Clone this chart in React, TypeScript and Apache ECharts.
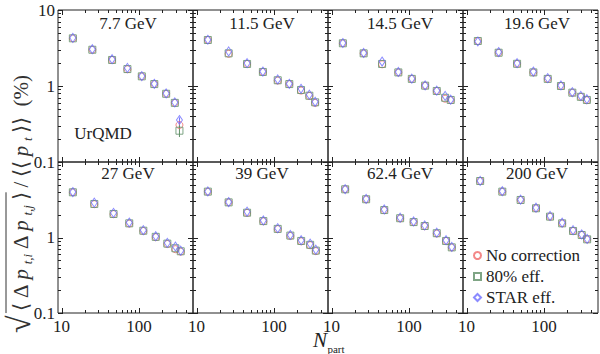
import React, { useEffect, useRef } from "react";
import * as echarts from "echarts";

// ---------------- data ----------------
const energies = ["7.7 GeV", "11.5 GeV", "14.5 GeV", "19.6 GeV", "27 GeV", "39 GeV", "62.4 GeV", "200 GeV"];
const seriesNames = ["No correction", "80% eff.", "STAR eff."];

const npart77 = [14, 25, 45, 71, 109, 158, 225, 291, 334];
const npart115 = [14, 26, 45, 72, 112, 158, 224, 287, 341];
const npart145 = [14, 26, 45, 73, 109, 162, 229, 294, 347];
const npart196 = [14, 26, 45, 73, 112, 166, 233, 300, 359];
const npart27 = [14, 26.5, 47, 75, 114, 165, 233, 296, 347];
const npart39 = [14, 26, 45, 73, 112, 163, 225, 294, 348];
const npart624 = [15, 28, 48, 77, 115, 160, 229, 302, 358];
const npart200 = [15, 29, 50, 79, 120, 172, 238, 308, 362];

const noCorr77 = [4.24, 3.0, 2.2, 1.66, 1.34, 1.06, 0.79, 0.6, 0.307];
const eff80_77 = [4.24, 3.0, 2.2, 1.67, 1.34, 1.06, 0.79, 0.6, 0.258];
const star77 = [4.3, 3.05, 2.25, 1.73, 1.35, 1.07, 0.8, 0.61, 0.357];
const errNoCorr77 = [0, 0, 0, 0, 0, 0, 0, 0, 0.03];
const errEff80_77 = [0, 0, 0, 0, 0, 0, 0, 0, 0.045];
const errStar77 = [0, 0, 0, 0, 0, 0, 0, 0, 0.03];

const noCorr115 = [4.03, 2.65, 1.95, 1.53, 1.18, 1.06, 0.87, 0.74, 0.6];
const eff80_115 = [4.03, 2.69, 1.95, 1.53, 1.19, 1.06, 0.886, 0.745, 0.61];
const star115 = [4.06, 2.85, 2.0, 1.55, 1.22, 1.07, 0.92, 0.77, 0.62];

const noCorr145 = [3.65, 2.69, 1.93, 1.51, 1.24, 1.01, 0.86, 0.68, 0.65];
const eff80_145 = [3.65, 2.69, 1.95, 1.51, 1.24, 1.01, 0.86, 0.7, 0.655];
const star145 = [3.68, 2.72, 2.1, 1.53, 1.25, 1.02, 0.87, 0.74, 0.66];

const noCorr196 = [3.91, 2.74, 1.96, 1.51, 1.24, 1.0, 0.817, 0.72, 0.65];
const eff80_196 = [3.91, 2.74, 1.96, 1.51, 1.24, 1.0, 0.817, 0.72, 0.655];
const star196 = [3.85, 2.8, 2.0, 1.55, 1.27, 1.02, 0.83, 0.74, 0.67];

const noCorr27 = [3.97, 2.76, 2.04, 1.53, 1.22, 1.01, 0.82, 0.7, 0.65];
const eff80_27 = [3.97, 2.78, 2.05, 1.54, 1.23, 1.02, 0.83, 0.72, 0.657];
const star27 = [4.0, 2.9, 2.12, 1.58, 1.25, 1.04, 0.85, 0.76, 0.67];

const noCorr39 = [4.05, 2.92, 2.12, 1.64, 1.29, 1.05, 0.89, 0.79, 0.66];
const eff80_39 = [4.05, 2.92, 2.13, 1.65, 1.3, 1.06, 0.9, 0.8, 0.67];
const star39 = [4.08, 2.95, 2.2, 1.68, 1.33, 1.08, 0.92, 0.83, 0.69];

const noCorr624 = [4.35, 3.2, 2.3, 1.79, 1.6, 1.41, 1.13, 0.9, 0.74];
const eff80_624 = [4.35, 3.21, 2.31, 1.8, 1.6, 1.42, 1.14, 0.9, 0.74];
const star624 = [4.38, 3.25, 2.36, 1.83, 1.63, 1.45, 1.16, 0.92, 0.75];

const noCorr200 = [5.6, 4.05, 3.14, 2.44, 1.89, 1.54, 1.22, 1.08, 0.946];
const eff80_200 = [5.6, 4.05, 3.14, 2.44, 1.89, 1.54, 1.22, 1.08, 0.946];
const star200 = [5.62, 4.1, 3.18, 2.48, 1.93, 1.57, 1.25, 1.1, 0.96];

const xMajorTicks = [10, 100];
const xMinorTicks = [20, 30, 40, 50, 60, 70, 80, 90, 200, 300, 400];
const yMajorTicks = [0.1, 1, 10];
const yMinorTicks = [0.2, 0.3, 0.4, 0.5, 0.6, 0.7, 0.8, 0.9, 2, 3, 4, 5, 6, 7, 8, 9];

const panels = [
  { np: npart77, nc: noCorr77, e80: eff80_77, st: star77 },
  { np: npart115, nc: noCorr115, e80: eff80_115, st: star115 },
  { np: npart145, nc: noCorr145, e80: eff80_145, st: star145 },
  { np: npart196, nc: noCorr196, e80: eff80_196, st: star196 },
  { np: npart27, nc: noCorr27, e80: eff80_27, st: star27 },
  { np: npart39, nc: noCorr39, e80: eff80_39, st: star39 },
  { np: npart624, nc: noCorr624, e80: eff80_624, st: star624 },
  { np: npart200, nc: noCorr200, e80: eff80_200, st: star200 },
];

// ---------------- style ----------------
const FONT = "Liberation Serif";
const TXT = "#222";
const RED = "#f06a6a";
const GREEN = "#5f8f66";
const BLUE = "#6e6eff";
const GRID_LEFT = 58;
const GRID_W = 135;
const ROW_TOP = [10, 162];
const ROW_H = [152, 151];
const titleCx = [128, 262, 400, 537];
const titleCy = [23, 173];

function isPow10(v: number) {
  const l = Math.log10(v);
  const r = Math.round(l);
  return Math.abs(l - r) < 1e-6 ? r : null;
}

function measure(text: string, font: string) {
  const c = document.createElement("canvas").getContext("2d");
  if (!c) return text.length * 8;
  c.font = font;
  return c.measureText(text).width;
}

function tickRender(params: any, api: any) {
  const cs = params.coordSys;
  const kind = api.value(2);
  const major = api.value(3);
  const len = major ? 5 : 3;
  const st = { stroke: "#222", lineWidth: 1 };
  if (kind === 0) {
    const px = Math.round(api.coord([api.value(0), 1])[0]) + 0.5;
    const yb = cs.y + cs.height;
    return {
      type: "group",
      children: [
        { type: "line", shape: { x1: px, y1: yb, x2: px, y2: yb - len }, style: st },
        { type: "line", shape: { x1: px, y1: cs.y, x2: px, y2: cs.y + len }, style: st },
      ],
    };
  }
  const py = Math.round(api.coord([20, api.value(1)])[1]) + 0.5;
  const xr = cs.x + cs.width;
  return {
    type: "group",
    children: [
      { type: "line", shape: { x1: cs.x, y1: py, x2: cs.x + len, y2: py }, style: st },
      { type: "line", shape: { x1: xr, y1: py, x2: xr - len, y2: py }, style: st },
    ],
  };
}

function errRender(color: string) {
  return (params: any, api: any) => {
    const x = api.value(0), y = api.value(1), e = api.value(2);
    if (!e) return null;
    const p1 = api.coord([x, y - e]);
    const p2 = api.coord([x, y + e]);
    return {
      type: "line",
      shape: { x1: p1[0], y1: p1[1], x2: p2[0], y2: p2[1] },
      style: { stroke: color, lineWidth: 1 },
    };
  };
}

function buildYLabel() {
  const segs = [
    { t: "√", size: 32, italic: false, dy: -2 },
    { t: "⟨", size: 21, italic: false, dy: 0 },
    { t: "Δ", size: 21, italic: false, dy: 0 },
    { t: "p", size: 21, italic: true, dy: 0 },
    { t: "t,i", size: 13, italic: true, dy: 6 },
    { t: "Δ", size: 21, italic: false, dy: 0 },
    { t: "p", size: 21, italic: true, dy: 0 },
    { t: "t,j", size: 13, italic: true, dy: 6 },
    { t: "⟩", size: 21, italic: false, dy: 0 },
    { t: "/", size: 21, italic: false, dy: 0 },
    { t: "⟨⟨", size: 21, italic: false, dy: 0 },
    { t: "p", size: 21, italic: true, dy: 0 },
    { t: "t", size: 13, italic: true, dy: 6 },
    { t: "⟩⟩", size: 21, italic: false, dy: 0 },
    { t: " (%)", size: 21, italic: false, dy: 0 },
  ];
  const fontOf = (s: any) => `${s.italic ? "italic " : ""}${s.size}px ${FONT}`;
  const widths = segs.map((s) => measure(s.t, fontOf(s)));
  const total = widths.reduce((a, b) => a + b, 0);
  const target = 258;
  const gap = Math.max(0, (target - total) / (segs.length - 1));
  const children: any[] = [];
  let x = 0;
  let olStart = 0, olEnd = 0;
  segs.forEach((s, i) => {
    if (i === 1) olStart = x - gap * 0.5;
    children.push({
      type: "text",
      x,
      y: s.dy,
      style: {
        text: s.t,
        font: fontOf(s),
        fill: "#333",
        align: "left",
        textAlign: "left",
        verticalAlign: "middle",
        textVerticalAlign: "middle",
      },
    });
    x += widths[i];
    if (i === 8) olEnd = x;
    x += gap;
  });
  children.push({
    type: "line",
    shape: { x1: olStart, y1: -15, x2: olEnd, y2: -15 },
    style: { stroke: "#333", lineWidth: 1 },
  });
  return { type: "group", x: 21, y: 333, rotation: Math.PI / 2, children };
}

function buildOption() {
  const grid: any[] = [];
  const xAxis: any[] = [];
  const yAxis: any[] = [];
  const series: any[] = [];
  const tickData = [
    ...xMajorTicks.map((v) => [v, 1, 0, 1]),
    ...xMinorTicks.map((v) => [v, 1, 0, 0]),
    ...yMajorTicks.map((v) => [20, v, 1, 1]),
    ...yMinorTicks.map((v) => [20, v, 1, 0]),
  ];
  panels.forEach((p, i) => {
    const row = Math.floor(i / 4);
    const col = i % 4;
    grid.push({
      left: GRID_LEFT + col * GRID_W,
      top: ROW_TOP[row],
      width: GRID_W,
      height: ROW_H[row],
      show: true,
      borderColor: "#222",
      borderWidth: 1,
      backgroundColor: "transparent",
      containLabel: false,
      outerBoundsMode: "none",
    });
    xAxis.push({
      type: "log",
      logBase: 10,
      gridIndex: i,
      min: 9,
      max: 500,
      axisLine: { show: false },
      axisTick: { show: false },
      minorTick: { show: false },
      splitLine: { show: false },
      axisLabel: {
        show: row === 1,
        margin: 5,
        fontFamily: FONT,
        fontSize: 17,
        color: TXT,
        showMinLabel: true,
        showMaxLabel: true,
        formatter: (v: number) => {
          const r = isPow10(v);
          return r === 1 || r === 2 ? String(Math.pow(10, r)) : "";
        },
      },
    });
    yAxis.push({
      type: "log",
      logBase: 10,
      gridIndex: i,
      min: 0.1,
      max: 10,
      axisLine: { show: false },
      axisTick: { show: false },
      minorTick: { show: false },
      splitLine: { show: false },
      axisLabel: {
        show: col === 0,
        margin: 3,
        fontFamily: FONT,
        fontSize: 17,
        color: TXT,
        showMinLabel: true,
        showMaxLabel: true,
        formatter: (v: number) => {
          const r = isPow10(v);
          if (r === -1) return "0.1";
          if (r === 0) return "1";
          if (r === 1) return row === 0 ? "10" : "";
          return "";
        },
      },
    });
    series.push({
      type: "custom",
      xAxisIndex: i,
      yAxisIndex: i,
      silent: true,
      clip: false,
      z: 1,
      encode: { x: 0, y: 1 },
      data: tickData,
      renderItem: tickRender,
    });
    const defs = [
      { name: seriesNames[0], vals: p.nc, symbol: "circle", size: 7, color: RED, z: 3 },
      { name: seriesNames[1], vals: p.e80, symbol: "rect", size: 7, color: GREEN, z: 4 },
      { name: seriesNames[2], vals: p.st, symbol: "diamond", size: [6, 9], color: BLUE, z: 5 },
    ];
    defs.forEach((d) => {
      series.push({
        type: "scatter",
        name: d.name,
        xAxisIndex: i,
        yAxisIndex: i,
        symbol: d.symbol,
        symbolSize: d.size,
        z: d.z,
        silent: true,
        itemStyle: { color: "rgba(0,0,0,0)", borderColor: d.color, borderWidth: 1 },
        data: p.np.map((x, j) => [x, d.vals[j]]),
      });
    });
    if (i === 0) {
      const errs = [
        { vals: p.nc, err: errNoCorr77, color: RED },
        { vals: p.e80, err: errEff80_77, color: GREEN },
        { vals: p.st, err: errStar77, color: BLUE },
      ];
      errs.forEach((e) => {
        series.push({
          type: "custom",
          xAxisIndex: i,
          yAxisIndex: i,
          silent: true,
          z: 2,
          encode: { x: 0, y: 1 },
          data: p.np.map((x, j) => [x, e.vals[j], e.err[j]]),
          renderItem: errRender(e.color),
        });
      });
    }
  });

  const textStyle = (text: string, size: number, italic = false) => ({
    text,
    font: `${italic ? "italic " : ""}${size}px ${FONT}`,
    fill: TXT,
    align: "center",
    textAlign: "center",
    verticalAlign: "middle",
    textVerticalAlign: "middle",
  });

  const graphic: any[] = energies.map((e, i) => ({
    type: "text",
    x: titleCx[i % 4],
    y: titleCy[Math.floor(i / 4)],
    silent: true,
    style: textStyle(e, 17),
  }));
  graphic.push({ type: "text", x: 103, y: 133, silent: true, style: textStyle("UrQMD", 17) });
  graphic.push({ type: "text", x: 320, y: 340, silent: true, style: textStyle("N", 21, true) });
  graphic.push({ type: "text", x: 336, y: 349, silent: true, style: textStyle("part", 11) });
  graphic.push(buildYLabel());

  return {
    animation: false,
    backgroundColor: "#fff",
    grid,
    xAxis,
    yAxis,
    series,
    graphic,
    legend: {
      data: [
        { name: seriesNames[0], icon: "circle" },
        { name: seriesNames[1], icon: "rect" },
        { name: seriesNames[2], icon: "diamond" },
      ],
      orient: "vertical",
      left: 473,
      top: 247,
      padding: 0,
      itemWidth: 7,
      itemHeight: 7,
      itemGap: 4,
      selectedMode: false,
      textStyle: { fontFamily: FONT, fontSize: 17, color: TXT },
    },
  };
}

export default function App() {
  const ref = useRef<HTMLDivElement>(null);
  useEffect(() => {
    if (!ref.current) return;
    const chart = echarts.init(ref.current, undefined, { renderer: "svg" });
    chart.setOption(buildOption() as any);
    return () => chart.dispose();
  }, []);
  return (
    <div
      ref={ref}
      style={{ position: "fixed", left: 0, top: 0, width: 600, height: 354, background: "#fff" }}
    />
  );
}
